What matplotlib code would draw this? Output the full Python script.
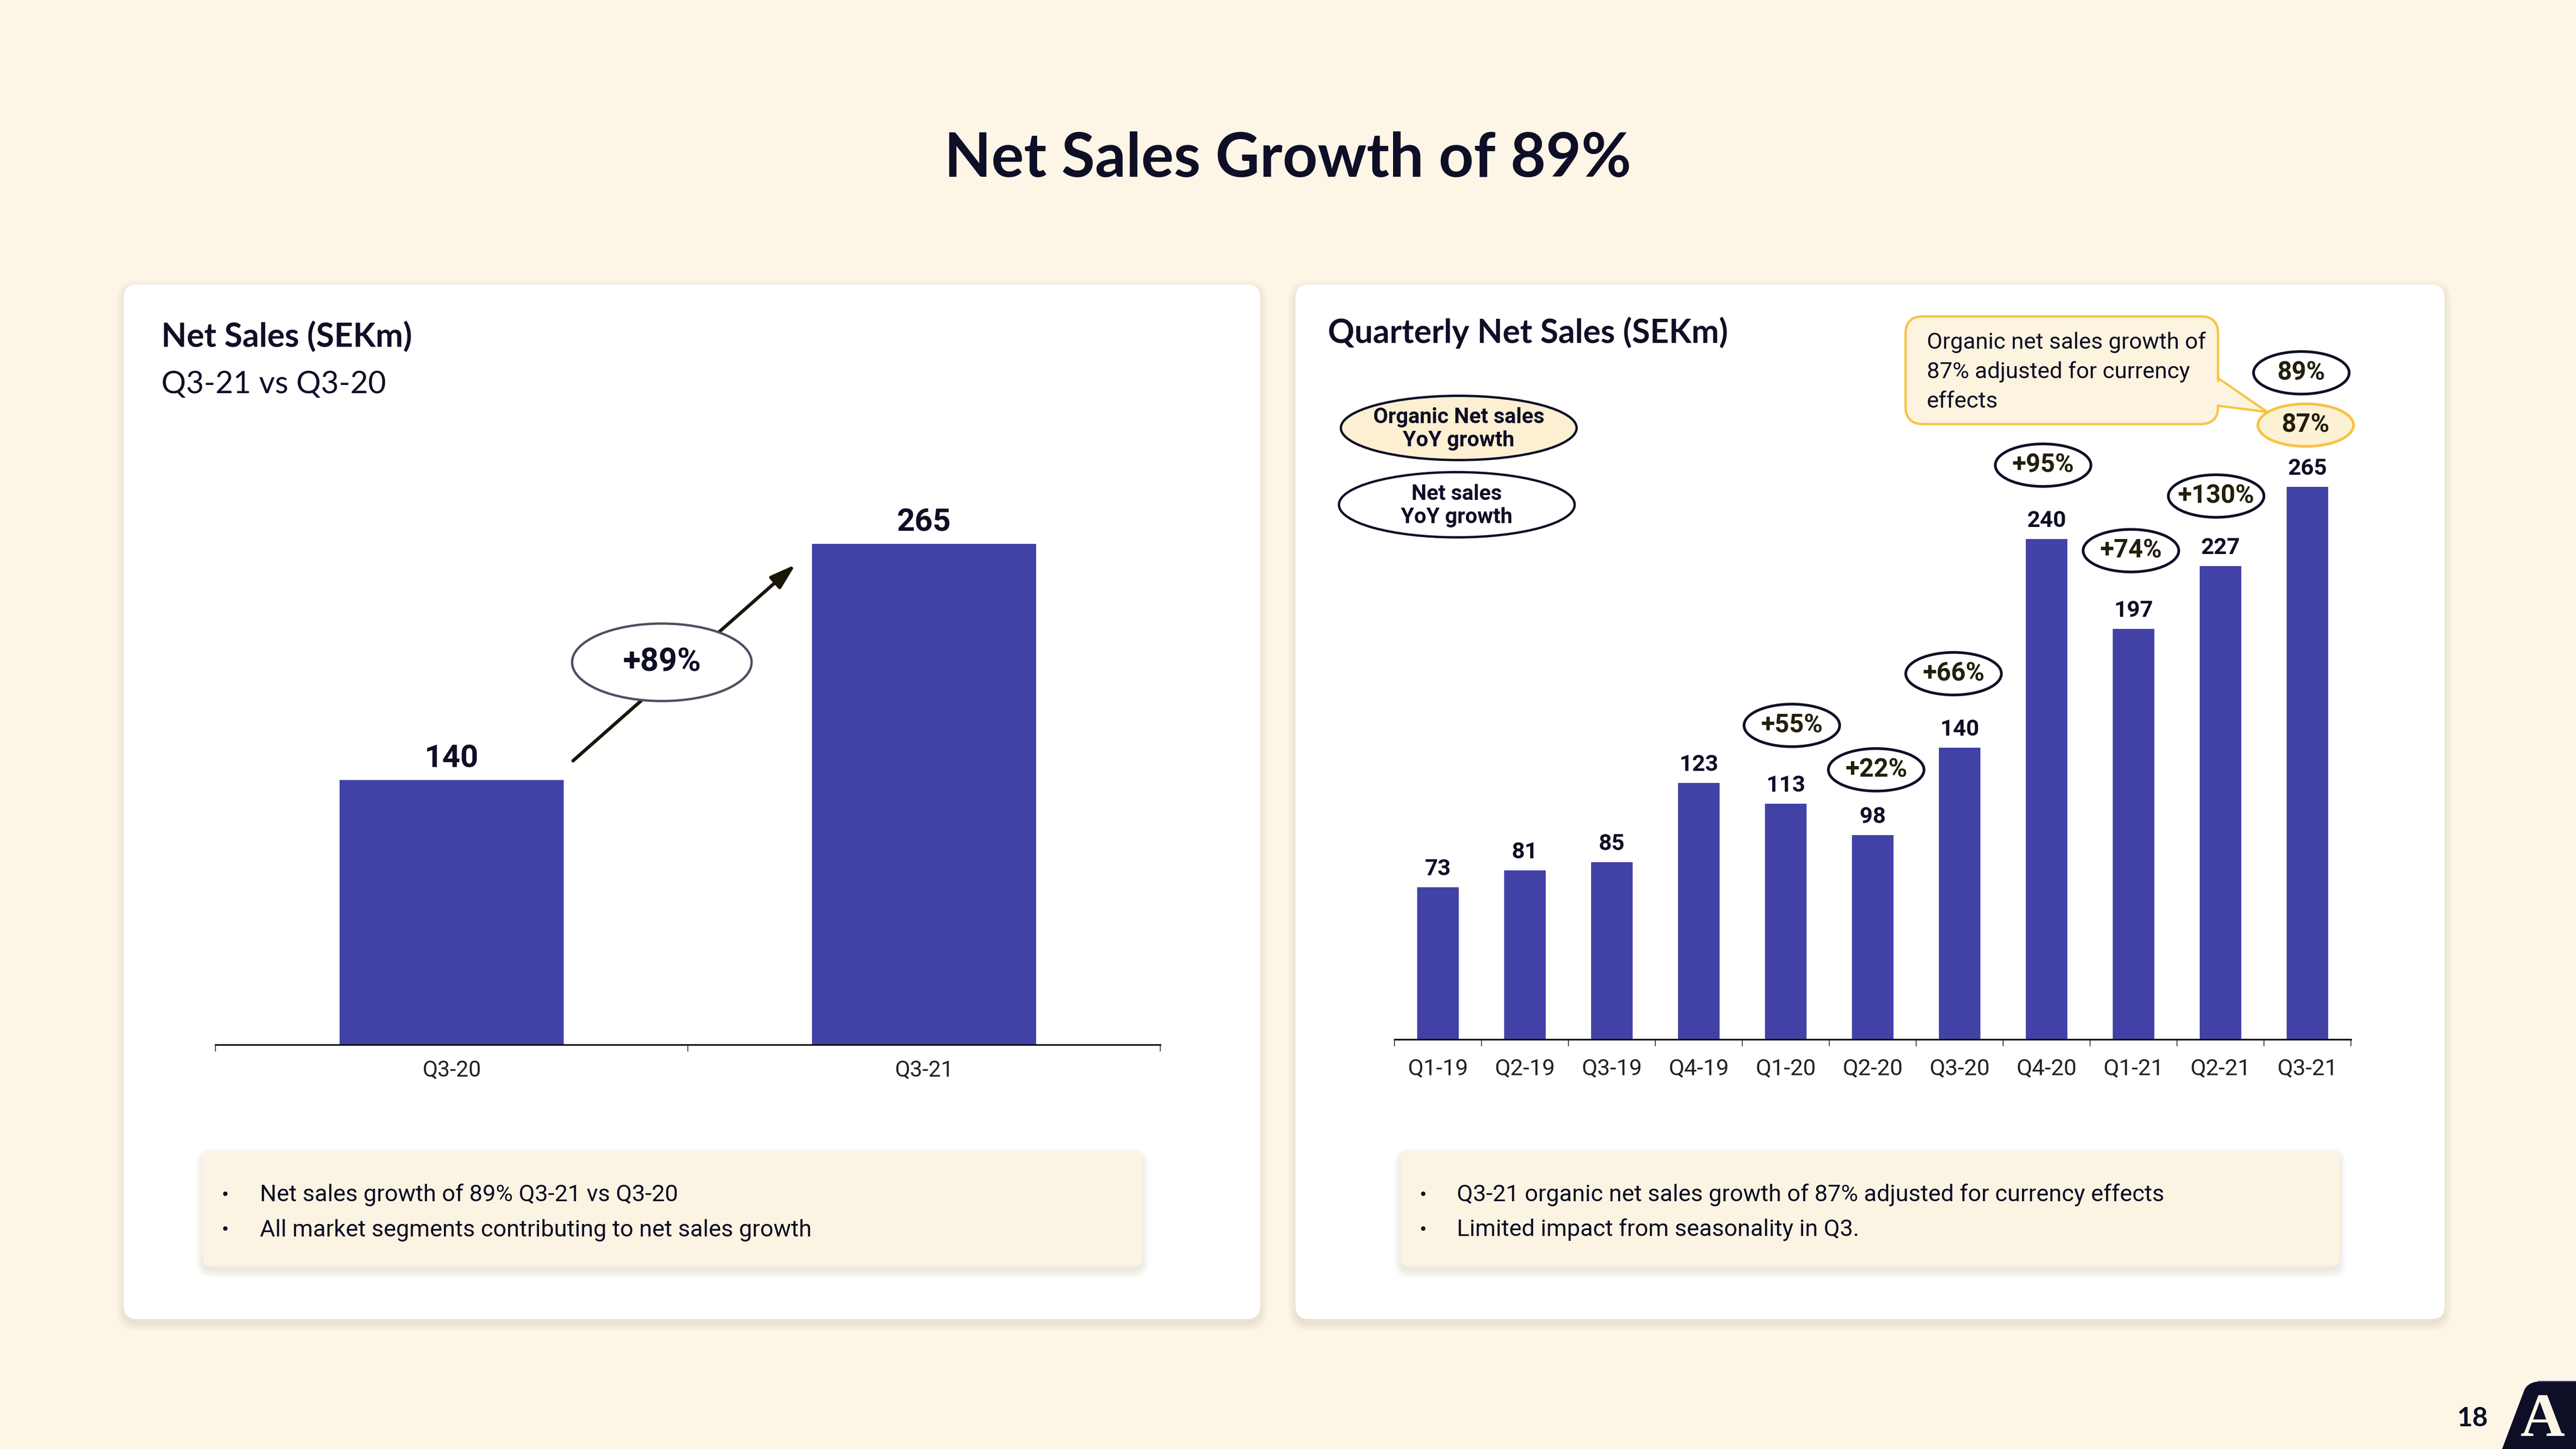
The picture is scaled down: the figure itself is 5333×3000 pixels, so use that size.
import matplotlib
matplotlib.use('Agg')
import matplotlib.pyplot as plt
from matplotlib.patches import FancyBboxPatch, Ellipse, Polygon, PathPatch
from matplotlib.path import Path

# ---------------- data ----------------
title = 'Net Sales Growth of 89%'
left_title = 'Net Sales (SEKm)'
left_subtitle = 'Q3-21 vs Q3-20'
left_categories = ['Q3-20', 'Q3-21']
left_values = [140, 265]
left_growth = '+89%'

right_title = 'Quarterly Net Sales (SEKm)'
quarters = ['Q1-19', 'Q2-19', 'Q3-19', 'Q4-19', 'Q1-20', 'Q2-20',
            'Q3-20', 'Q4-20', 'Q1-21', 'Q2-21', 'Q3-21']
quarter_values = [73, 81, 85, 123, 113, 98, 140, 240, 197, 227, 265]
yoy_labels = ['+55%', '+22%', '+66%', '+95%', '+74%', '+130%', '89%']
organic_label = '87%'
legend_organic = 'Organic Net sales\nYoY growth'
legend_net = 'Net sales\nYoY growth'
callout_lines = ['Organic net sales growth of', '87% adjusted for currency', 'effects']

left_bullets = ['Net sales growth of 89% Q3-21 vs Q3-20',
                'All market segments contributing to net sales growth']
right_bullets = ['Q3-21 organic net sales growth of 87% adjusted for currency effects',
                 'Limited impact from seasonality in Q3.']
page_number = '18'

# ---------------- layout (annotation placement, data coords) ----------------
yoy_pos = [(4.07, 150.6), (5.04, 129.3), (5.93, 175.4), (6.96, 275.4),
           (7.97, 234.4), (8.95, 260.6), (9.93, 319.7)]
organic_pos = (9.98, 294.6)

# ---------------- style ----------------
BG = '#FDF6E7'
NAVY = '#0E0E26'
BAR = '#4242A6'
YELLOW = '#F6C444'
CREAM = '#FCF4E2'
OLIVE = '#231F0C'
SANS = ['Roboto', 'DejaVu Sans']
HEAD = ['Lato', 'DejaVu Sans']

W, H = 5333, 3000
fig = plt.figure(figsize=(W / 100, H / 100), dpi=100, facecolor=BG)

bg = fig.add_axes([0, 0, 1, 1], zorder=0)
bg.set_xlim(0, W)
bg.set_ylim(H, 0)
bg.axis('off')
bg.set_facecolor(BG)


def card(x0, y0, x1, y1, r, fc, shadow=True, z=1):
    if shadow:
        for k in range(7):
            e = 2 + k * 2.5
            p = FancyBboxPatch((x0 - e + 2, y0 - e + 8), (x1 - x0) + 2 * e - 4, (y1 - y0) + 2 * e,
                               boxstyle=f'round,pad=0,rounding_size={r + e}',
                               fc='#9C8A66', ec='none', alpha=0.022, zorder=z - 0.5)
            bg.add_patch(p)
    p = FancyBboxPatch((x0, y0), x1 - x0, y1 - y0, boxstyle=f'round,pad=0,rounding_size={r}',
                       fc=fc, ec='none', zorder=z)
    bg.add_patch(p)


# panels
card(256, 589, 2609, 2731, 27, 'white')
card(2682, 589, 5061, 2731, 27, 'white')
# bullet boxes
card(420, 2386, 2364, 2621, 16, CREAM, z=2)
card(2900, 2386, 4843, 2621, 16, CREAM, z=2)

# titles
bg.text(2666, 366, title, ha='center', va='baseline', fontsize=91, fontweight='bold',
        color=NAVY, family=HEAD)
bg.text(334, 718, left_title, ha='left', va='baseline', fontsize=49, fontweight='bold',
        color=NAVY, family=HEAD)
bg.text(334, 814, left_subtitle, ha='left', va='baseline', fontsize=46,
        color=NAVY, family=HEAD)
bg.text(2749, 710, right_title, ha='left', va='baseline', fontsize=49, fontweight='bold',
        color=NAVY, family=HEAD)

# bullets
for i, t in enumerate(left_bullets):
    yb = 2488 + i * 72
    bg.text(467, yb, '•', ha='center', va='baseline', fontsize=32, color=NAVY, family=SANS, zorder=3)
    bg.text(538, yb, t, ha='left', va='baseline', fontsize=35, color=NAVY, family=SANS, zorder=3)
for i, t in enumerate(right_bullets):
    yb = 2488 + i * 72
    bg.text(2947, yb, '•', ha='center', va='baseline', fontsize=32, color=NAVY, family=SANS, zorder=3)
    bg.text(3016, yb, t, ha='left', va='baseline', fontsize=35, color=NAVY, family=SANS, zorder=3)

# legend ellipses
bg.add_patch(Ellipse((3020, 886), 488, 133, fc='#FCEFD2', ec=NAVY, lw=3.5, zorder=3))
bg.text(3020, 888, legend_organic, ha='center', va='center', fontsize=32, fontweight='bold',
        color=NAVY, family=SANS, linespacing=1.2, zorder=4)
bg.add_patch(Ellipse((3016, 1045), 488, 135, fc='white', ec=NAVY, lw=3.5, zorder=3))
bg.text(3016, 1047, legend_net, ha='center', va='center', fontsize=32, fontweight='bold',
        color=NAVY, family=SANS, linespacing=1.2, zorder=4)

# callout box
bg.add_patch(FancyBboxPatch((3945, 655), 647, 223, boxstyle='round,pad=0,rounding_size=36',
                            fc='#FDF4DF', ec=YELLOW, lw=3.5, zorder=3))
bg.add_patch(Polygon([(4580, 783), (4694, 853), (4580, 840)], closed=True,
                     fc='#FDF4DF', ec='none', zorder=3.5))
bg.plot([4592, 4694, 4592], [783, 853, 840], color=YELLOW, lw=3.5, zorder=3.6,
        solid_joinstyle='round')
for i, line in enumerate(callout_lines):
    bg.text(3989, 722 + i * 61, line, ha='left', va='baseline', fontsize=34, color=NAVY,
            family=SANS, zorder=4)

# page number and logo
bg.text(5119, 2953, page_number, ha='center', va='baseline', fontsize=40, fontweight='bold',
        color=NAVY, family=HEAD)
verts = [(5180, 3000), (5226, 2878), (5234, 2860), (5262, 2860), (5333, 2860), (5333, 3000), (5180, 3000)]
codes = [Path.MOVETO, Path.LINETO, Path.CURVE3, Path.CURVE3, Path.LINETO, Path.LINETO, Path.CLOSEPOLY]
bg.add_patch(PathPatch(Path(verts, codes), fc=NAVY, ec='none', zorder=2))
bg.plot([5255, 5333], [2860, 2860], color=BAR, lw=1.5, zorder=2.1)
bg.text(5264, 2973, 'A', ha='center', va='baseline', fontsize=92, fontweight='bold',
        color=BG, family=['Liberation Serif', 'DejaVu Serif'], zorder=3)


def style_axis(ax, n, pad):
    ax.set_facecolor('none')
    for s in ('top', 'left', 'right'):
        ax.spines[s].set_visible(False)
    ax.spines['bottom'].set_color('#111111')
    ax.spines['bottom'].set_linewidth(2.5)
    ax.set_yticks([])
    ax.set_xlim(-0.5, n - 0.5)
    ax.set_xticks(range(n))
    ax.set_xticks([i - 0.5 for i in range(n + 1)], minor=True)
    ax.tick_params(axis='x', which='major', length=0, pad=pad)
    ax.tick_params(axis='x', which='minor', length=10, width=1.3, color='#333333', direction='out')


# ---------------- left chart ----------------
axL = fig.add_axes([446 / W, 1 - 2163 / H, (2402 - 446) / W, 300 * 3.914 / H], zorder=2)
style_axis(axL, len(left_categories), 22)
axL.set_ylim(0, 300)
xl = list(range(len(left_categories)))
axL.bar(xl, left_values, width=0.475, color=BAR, zorder=2)
axL.set_xticklabels(left_categories, fontsize=33, color='#222222', family=SANS)
for i, v in enumerate(left_values):
    axL.annotate(str(v), (i, v), xytext=(0, 19), textcoords='offset points', ha='center',
                 va='baseline', fontsize=47, fontweight='bold', color=NAVY, family=SANS)
axL.annotate('', xy=(0.728, 254), xytext=(0.257, 150.2),
             arrowprops=dict(arrowstyle='-|>,head_length=1.6,head_width=0.5', lw=5,
                             color='#1A1505', mutation_scale=20, shrinkA=0, shrinkB=0),
             zorder=3, annotation_clip=False)
axL.add_patch(Ellipse((0.445, 202.3), 0.38, 41, fc='white', ec='#4C5060', lw=3.5, zorder=4,
                      clip_on=False))
axL.text(0.445, 202.3, left_growth, ha='center', va='center', fontsize=48, fontweight='bold',
         color=NAVY, family=SANS, zorder=5)

# ---------------- right chart ----------------
axR = fig.add_axes([2887 / W, 1 - 2152 / H, 1980 / W, 360 * 4.317 / H], zorder=2)
style_axis(axR, len(quarters), 28)
axR.set_ylim(0, 360)
xr = list(range(len(quarters)))
axR.bar(xr, quarter_values, width=0.48, color=BAR, zorder=2)
axR.set_xticklabels(quarters, fontsize=34, color='#222222', family=SANS)
for i, v in enumerate(quarter_values):
    axR.annotate(str(v), (i, v), xytext=(0, 18), textcoords='offset points', ha='center',
                 va='baseline', fontsize=34, fontweight='bold', color=NAVY, family=SANS)
for lab, (px, py) in zip(yoy_labels, yoy_pos):
    axR.add_patch(Ellipse((px, py), 1.1, 20.4, fc='white', ec=NAVY, lw=4, zorder=4, clip_on=False))
    axR.text(px, py, lab, ha='center', va='center', fontsize=38, fontweight='bold',
             color=OLIVE, family=SANS, zorder=5)
axR.add_patch(Ellipse(organic_pos, 1.1, 20.4, fc='#FDF1D5', ec=YELLOW, lw=4, zorder=4, clip_on=False))
axR.text(organic_pos[0], organic_pos[1], organic_label, ha='center', va='center', fontsize=38,
         fontweight='bold', color=OLIVE, family=SANS, zorder=5)

fig.savefig('out.png', dpi=100, facecolor=BG)
